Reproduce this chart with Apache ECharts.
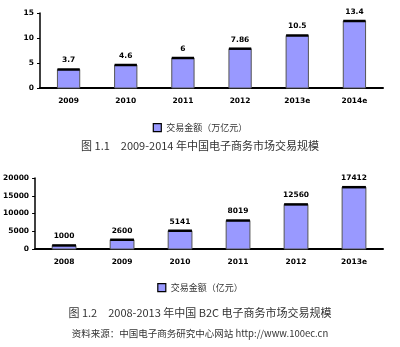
<!DOCTYPE html>
<html><head><meta charset="utf-8">
<script src="https://cdn.jsdelivr.net/npm/echarts@6/dist/echarts.min.js"></script>
<style>html,body{margin:0;padding:0;background:#fff}#c{width:400px;height:347px}</style>
</head><body><div id="c"></div>
<script>
var cats1 = ['2009','2010','2011','2012','2013e','2014e'];
var vals1 = [3.7, 4.6, 6, 7.86, 10.5, 13.4];
var ticks1 = [0, 5, 10, 15];
var name1 = '交易金额（万亿元）';
var caption1 = '图 1.1　2009-2014 年中国电子商务市场交易规模';

var cats2 = ['2008','2009','2010','2011','2012','2013e'];
var vals2 = [1000, 2600, 5141, 8019, 12560, 17412];
var ticks2 = [0, 5000, 10000, 15000, 20000];
var name2 = '交易金额（亿元）';
var caption2 = '图 1.2　2008-2013 年中国 B2C 电子商务市场交易规模';
var source = '资料来源：中国电子商务研究中心网站 http://www.100ec.cn';

var FILL = '#9999FF';
var axisFont = {fontFamily:'DejaVu Sans', fontWeight:'bold', fontSize:7.5, color:'#000'};

function renderer(labels, ratio){
  return function(params, api){
    var x = api.value(0), v = api.value(1);
    var top = api.coord([x, v]);
    var base = api.coord([x, 0]);
    var w = api.size([1,0])[0]*ratio;
    var l = top[0]-w/2;
    return {type:'group', children:[
      {type:'rect', shape:{x:l, y:top[1], width:w, height:base[1]-top[1]},
        style:{fill:FILL, stroke:'#555', lineWidth:1}},
      {type:'line', shape:{x1:l, y1:top[1], x2:l+w, y2:top[1]},
        style:{stroke:'#000', lineWidth:2.5}},
      {type:'text', x:top[0], y:top[1]-5,
        style:{text:String(labels[params.dataIndex]), fontFamily:'DejaVu Sans', fontWeight:'bold', fontSize:7.5, fill:'#000', align:'center', verticalAlign:'bottom'}}
    ]};
  };
}

function xAxis(idx, cats){
  return {type:'category', gridIndex:idx, data:cats,
    axisLine:{lineStyle:{color:'#000', width:2}},
    axisTick:{inside:true, length:3, lineStyle:{color:'#000'}},
    axisLabel:Object.assign({margin:9}, axisFont)};
}
function yAxis(idx, ticks){
  return {type:'value', gridIndex:idx, min:ticks[0], max:ticks[ticks.length-1], interval:ticks[1]-ticks[0],
    axisLine:{show:true, lineStyle:{color:'#000', width:1.5}},
    axisTick:{show:true, length:3, lineStyle:{color:'#000'}},
    splitLine:{show:false},
    axisLabel:Object.assign({margin:6, formatter:function(v){return String(v);}}, axisFont)};
}

var chart = echarts.init(document.getElementById('c'), null, {renderer:'canvas'});
chart.setOption({
  animation:false,
  grid:[{left:40, top:13, width:343, height:75},
        {left:35, top:178, width:348, height:71}],
  xAxis:[xAxis(0, cats1), xAxis(1, cats2)],
  yAxis:[yAxis(0, ticks1), yAxis(1, ticks2)],
  legend:[
    {data:[{name:name1, icon:'rect', itemStyle:{color:FILL, borderColor:'#000', borderWidth:1.2}}], left:'center', top:118, itemWidth:8, itemHeight:8, itemGap:4,
      textStyle:{fontFamily:'Noto Sans CJK SC', fontSize:9, color:'#333'}},
    {data:[{name:name2, icon:'rect', itemStyle:{color:FILL, borderColor:'#000', borderWidth:1.2}}], left:'center', top:278, itemWidth:8, itemHeight:8, itemGap:4,
      textStyle:{fontFamily:'Noto Sans CJK SC', fontSize:9, color:'#333'}}
  ],
  graphic:[
    {type:'text', left:'center', top:140, style:{text:caption1, font:'11px "Noto Sans CJK SC"', fill:'#333'}},
    {type:'text', left:'center', top:307, style:{text:caption2, font:'11px "Noto Sans CJK SC"', fill:'#333'}},
    {type:'text', left:'center', top:329, style:{text:source, font:'9.5px "Noto Sans CJK SC"', fill:'#333'}}
  ],
  series:[
    {name:name1, type:'custom', xAxisIndex:0, yAxisIndex:0, data:vals1.map(function(v,i){return [i,v];}),
      renderItem:renderer(vals1, 0.39), itemStyle:{color:FILL}},
    {name:name2, type:'custom', xAxisIndex:1, yAxisIndex:1, data:vals2.map(function(v,i){return [i,v];}),
      renderItem:renderer(vals2, 0.41), itemStyle:{color:FILL}}
  ]
});
</script></body></html>
